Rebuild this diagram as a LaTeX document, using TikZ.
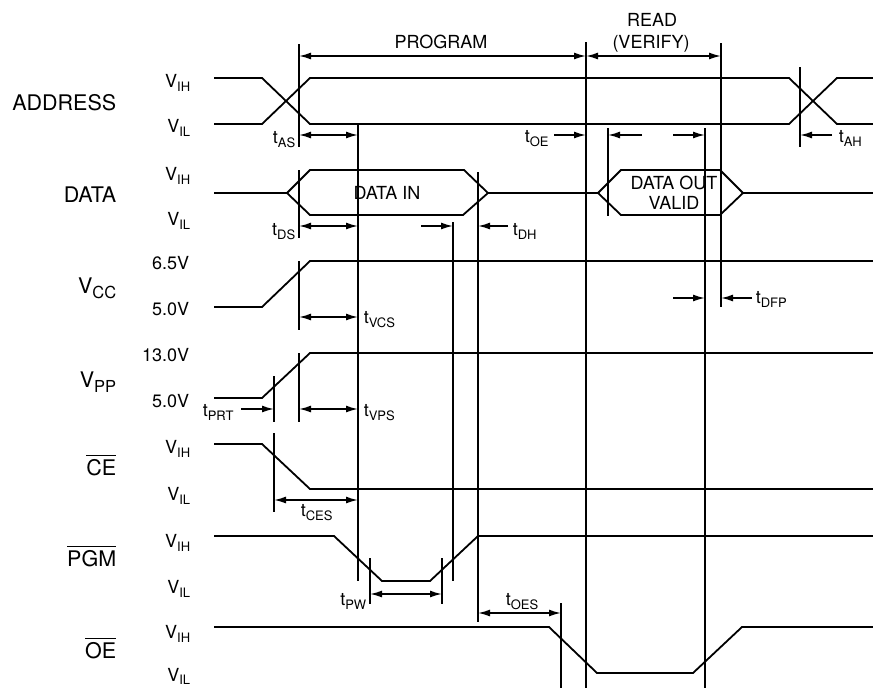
\documentclass[tikz,border=0pt]{standalone}
\usepackage{fontspec}
\setmainfont{TeX Gyre Heros}
\usetikzlibrary{arrows.meta}
\newcommand\bigf{\fontsize{21.5}{23}\selectfont}
\newcommand\medf{\fontsize{18}{20}\selectfont}
\newcommand\subf{\fontsize{13}{14}\selectfont}
\newcommand\lsub[1]{\raisebox{-4pt}{\subf #1}}
\newcommand\bsub[1]{\raisebox{-5pt}{\fontsize{16.5}{17}\selectfont #1}}
\newcommand\ovl[1]{\leavevmode\vbox{\hrule height 1.8pt\kern 2.5pt\hbox{#1}}}
\begin{document}
\begin{tikzpicture}[x=1pt,y=-1pt,line width=1.6pt,line join=miter,
  tip/.tip={Latex[length=12pt,width=7pt]},
  dim/.style={tip-tip},
  ra/.style={-tip},
  sig/.style={line width=1.8pt},
  vl/.style={line width=1.7pt},
  big/.style={font=\bigf,inner sep=0pt,anchor=base east},
  lvl/.style={font=\medf,inner sep=0pt,anchor=base east},
  tlab/.style={font=\medf,inner sep=0pt},
  txt/.style={font=\medf,inner sep=0pt,anchor=base}]
\useasboundingbox (0,0) rectangle (873,688);
% signal names
\node[big] (nAddr) at (117,110.5) {ADDRESS};
\node[big] (nData) at (117,202) {DATA};
\node[big] (nVcc) at (117,293) {V\bsub{CC}};
\node[big] (nVpp) at (117,387) {V\bsub{PP}};
\node[big] (nCe) at (117,475) {\ovl{CE}};
\node[big] (nPgm) at (117,566) {\ovl{PGM}};
\node[big] (nOe) at (117,658) {\ovl{OE}};
% level labels
\node[lvl] (l1) at (191,87) {V\lsub{IH}};
\node[lvl] (l2) at (191,132) {V\lsub{IL}};
\node[lvl] (l3) at (191,180) {V\lsub{IH}};
\node[lvl] (l4) at (191,225) {V\lsub{IL}};
\node[lvl] (l5) at (190,269) {6.5V};
\node[lvl] (l6) at (190,315) {5.0V};
\node[lvl] (l7) at (190,361) {13.0V};
\node[lvl] (l8) at (190,407) {5.0V};
\node[lvl] (l9) at (191,453) {V\lsub{IH}};
\node[lvl] (l10) at (191,500) {V\lsub{IL}};
\node[lvl] (l11) at (191,547) {V\lsub{IH}};
\node[lvl] (l12) at (191,593) {V\lsub{IL}};
\node[lvl] (l13) at (191,638) {V\lsub{IH}};
\node[lvl] (l14) at (191,681) {V\raisebox{-3pt}{\subf IL}};
% phase labels
\node[txt] (prog) at (441,48) {PROGRAM};
\node[txt] (read) at (652,27) {READ};
\node[txt] (verify) at (651,48) {(VERIFY)};
\node[txt] (din) at (387,199) {DATA IN};
\node[txt] (dout) at (674,189) {DATA OUT};
\node[txt] (valid) at (674,209) {VALID};
% timing labels
\node[tlab,anchor=base east] (tAS) at (296,143) {t\lsub{AS}};
\node[tlab,anchor=base east] (tDS) at (296,235) {t\lsub{DS}};
\node[tlab,anchor=base west] (tOE) at (524,142) {t\lsub{OE}};
\node[tlab,anchor=base west] (tAH) at (838,142) {t\lsub{AH}};
\node[tlab,anchor=base west] (tDH) at (512,235) {t\lsub{DH}};
\node[tlab,anchor=base west] (tVCS) at (363,323) {t\lsub{VCS}};
\node[tlab,anchor=base west] (tVPS) at (363,416) {t\lsub{VPS}};
\node[tlab,anchor=base west] (tPRT) at (202,416) {t\lsub{PRT}};
\node[tlab,anchor=base west] (tDFP) at (755,303) {t\lsub{DFP}};
\node[tlab,anchor=base west] (tCES) at (300,516) {t\lsub{CES}};
\node[tlab,anchor=base east] (tPW) at (367,605) {t\lsub{PW}};
\node[tlab,anchor=base west] (tOES) at (505,605) {t\lsub{OES}};
% waveforms
\draw[sig] (214,78) -- (262,78) -- (310,124) -- (789,124) -- (837,78) -- (873,78);
\draw[sig] (214,124) -- (262,124) -- (310,78) -- (789,78) -- (837,124) -- (873,124);
\draw[sig] (214,193) -- (287,193) -- (310,170) -- (464,170) -- (488,193) -- (598,193) -- (621,170) -- (720,170) -- (743,193) -- (873,193);
\draw[sig] (287,193) -- (310,215) -- (463,215) -- (488,193);
\draw[sig] (598,193) -- (621,215) -- (720,215) -- (743,193);
\draw[sig] (214,307) -- (262,307) -- (310,261) -- (873,261);
\draw[sig] (214,398) -- (262,398) -- (310,353) -- (873,353);
\draw[sig] (214,444) -- (262,444) -- (310,489) -- (873,489);
\draw[sig] (214,536) -- (334,536) -- (382,581) -- (430,581) -- (478,536) -- (873,536);
\draw[sig] (214,627) -- (549,627) -- (597,673) -- (693,673) -- (742,627) -- (873,627);
% vertical reference lines
\draw[vl] (299,44) -- (299,147);
\draw[vl] (299,170) -- (299,238);
\draw[vl] (299,261) -- (299,330);
\draw[vl] (299,353) -- (299,422);
\draw[vl] (358,124) -- (358,581);
\draw[vl] (274,376) -- (274,422);
\draw[vl] (274,433) -- (274,512);
\draw[vl] (370,558) -- (370,604);
\draw[vl] (442,558) -- (442,604);
\draw[vl] (453,222) -- (453,581);
\draw[vl] (478,172) -- (478,622);
\draw[vl] (586,42) -- (586,688);
\draw[vl] (608,128) -- (608,216);
\draw[vl] (705,128) -- (705,688);
\draw[vl] (721,43) -- (721,307);
\draw[vl] (800,67) -- (800,147);
\draw[vl] (561,603) -- (561,688);
% dimension arrows
\draw[vl,dim] (299,56) -- (586,56);
\draw[vl,dim] (586,56) -- (721,56);
\draw[vl,dim] (299,135) -- (358,135);
\draw[vl,ra] (554,135) -- (586,135);
\draw[vl,ra] (642,135) -- (608,135);
\draw[vl,ra] (673,135) -- (705,135);
\draw[vl,ra] (832,135) -- (800,135);
\draw[vl,dim] (299,226) -- (358,226);
\draw[vl,ra] (421,226) -- (453,226);
\draw[vl,ra] (508,226) -- (478,226);
\draw[vl,dim] (299,317) -- (358,317);
\draw[vl,dim] (299,409) -- (358,409);
\draw[vl,ra] (241,409) -- (274,409);
\draw[vl,ra] (673,298) -- (705,298);
\draw[vl,ra] (752,298) -- (721,298);
\draw[vl,dim] (274,500) -- (358,500);
\draw[vl,dim] (370,594) -- (442,594);
\draw[vl,dim] (478,613) -- (561,613);
\end{tikzpicture}
\end{document}
